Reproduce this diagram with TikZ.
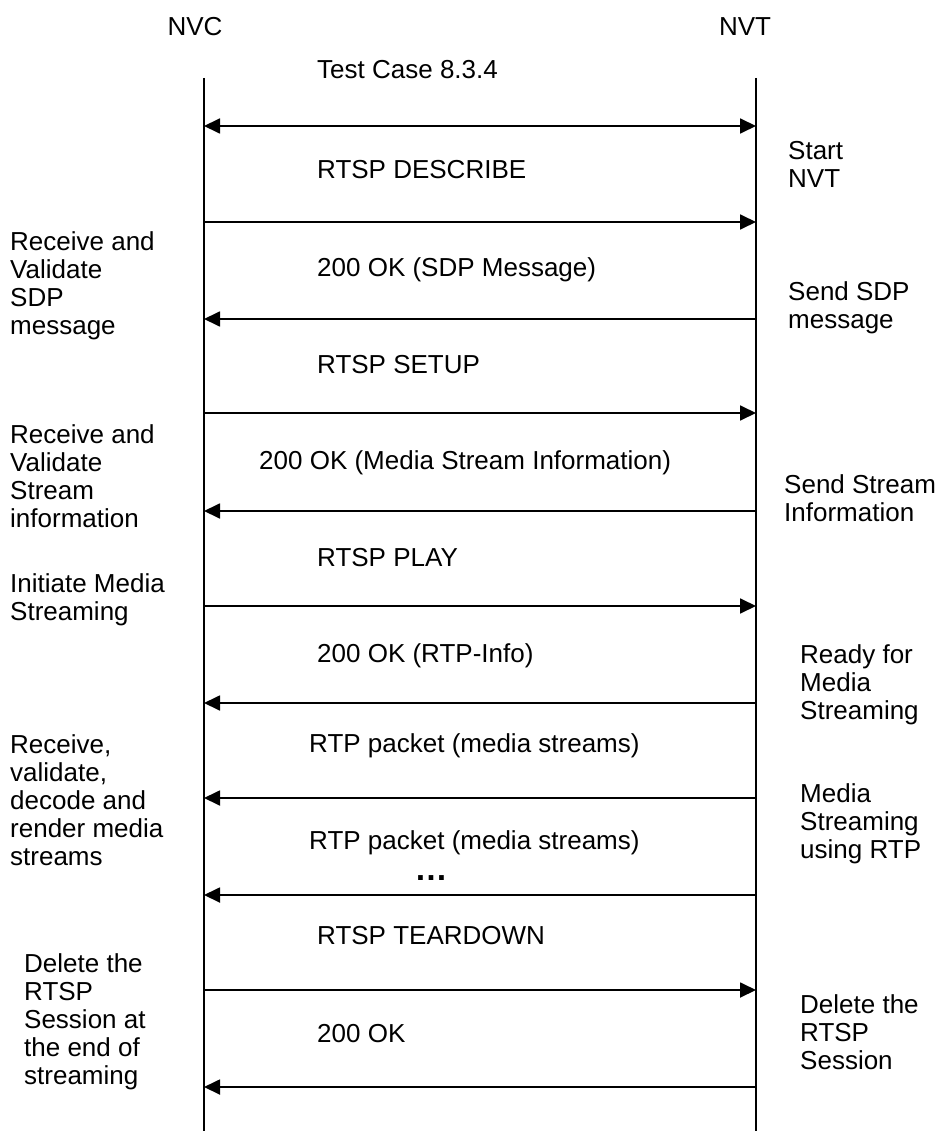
\documentclass[tikz,border=0pt]{standalone}
\usepackage{fontspec}
\setmainfont{Liberation Sans}
\usetikzlibrary{arrows.meta}

\begin{document}
\begin{tikzpicture}[
  x=1pt, y=-1pt,
  >={Triangle[length=16pt,width=15pt]},
  every node/.style={font=\fontsize{26}{28}\selectfont, inner sep=0pt},
  head/.style={anchor=base},
  label/.style={anchor=base west},
  note/.style={anchor=north west, align=left},
  life/.style={line width=1.8pt},
  msg/.style={->, line width=1.8pt},
]
  \useasboundingbox (0,0) rectangle (946,1131);

  % Entities
  \node[head] (nvc) at (195,36) {NVC};
  \node[head] (nvt) at (745,36) {NVT};

  % Lifelines
  \coordinate (ctop) at (204,78);
  \coordinate (cbot) at (204,1131);
  \coordinate (ttop) at (756,78);
  \coordinate (tbot) at (756,1131);
  \draw[life] (ctop) -- (cbot);
  \draw[life] (ttop) -- (tbot);

  % Message end points on the lifelines
  \coordinate (c0) at (204,126);  \coordinate (t0) at (756,126);
  \coordinate (c1) at (204,222);  \coordinate (t1) at (756,222);
  \coordinate (c2) at (204,319);  \coordinate (t2) at (756,319);
  \coordinate (c3) at (204,413);  \coordinate (t3) at (756,413);
  \coordinate (c4) at (204,511);  \coordinate (t4) at (756,511);
  \coordinate (c5) at (204,606);  \coordinate (t5) at (756,606);
  \coordinate (c6) at (204,703);  \coordinate (t6) at (756,703);
  \coordinate (c7) at (204,798);  \coordinate (t7) at (756,798);
  \coordinate (c8) at (204,895);  \coordinate (t8) at (756,895);
  \coordinate (c9) at (204,990);  \coordinate (t9) at (756,990);
  \coordinate (c10) at (204,1087); \coordinate (t10) at (756,1087);

  % Messages
  \draw[msg, <->] (c0) -- (t0);
  \draw[msg] (c1) -- (t1);
  \draw[msg] (t2) -- (c2);
  \draw[msg] (c3) -- (t3);
  \draw[msg] (t4) -- (c4);
  \draw[msg] (c5) -- (t5);
  \draw[msg] (t6) -- (c6);
  \draw[msg] (t7) -- (c7);
  \draw[msg] (t8) -- (c8);
  \draw[msg] (c9) -- (t9);
  \draw[msg] (t10) -- (c10);

  % Message labels
  \node[label] (tc) at (317,79) {Test Case 8.3.4};
  \node[label] (describe) at (317,179) {RTSP DESCRIBE};
  \node[label] (oksdp) at (317,277) {200 OK (SDP Message)};
  \node[label] (setup) at (317,373) {RTSP SETUP};
  \node[label] (okmedia) at (259,469) {200 OK (Media Stream Information)};
  \node[label] (play) at (317,566) {RTSP PLAY};
  \node[label] (okrtp) at (317,662) {200 OK (RTP-Info)};
  \node[label] (rtpa) at (309,752) {RTP packet (media streams)};
  \node[label] (rtpb) at (309,849) {RTP packet (media streams)};
  \node[anchor=base, font=\fontsize{33}{34}\selectfont\bfseries] (dots) at (431,880) {…};
  \node[label] (teardown) at (317,944) {RTSP TEARDOWN};
  \node[label] (ok) at (317,1042) {200 OK};

  % NVC side notes
  \node[note] (nc1) at (10,231) {Receive and\\Validate\\SDP\\message};
  \node[note] (nc2) at (10,424) {Receive and\\Validate\\Stream\\information};
  \node[note] (nc3) at (10,573) {Initiate Media\\Streaming};
  \node[note] (nc4) at (10,734) {Receive,\\validate,\\decode and\\render media\\streams};
  \node[note] (nc5) at (24,953) {Delete the\\RTSP\\Session at\\the end of\\streaming};

  % NVT side notes
  \node[note] (nt1) at (788,141) {Start\\NVT};
  \node[note] (nt2) at (788,281) {Send SDP\\message};
  \node[note] (nt3) at (784,474) {Send Stream\\Information};
  \node[note] (nt4) at (800,644) {Ready for\\Media\\Streaming};
  \node[note] (nt5) at (800,783) {Media\\Streaming\\using RTP};
  \node[note] (nt6) at (800,994) {Delete the\\RTSP\\Session};
\end{tikzpicture}
\end{document}
